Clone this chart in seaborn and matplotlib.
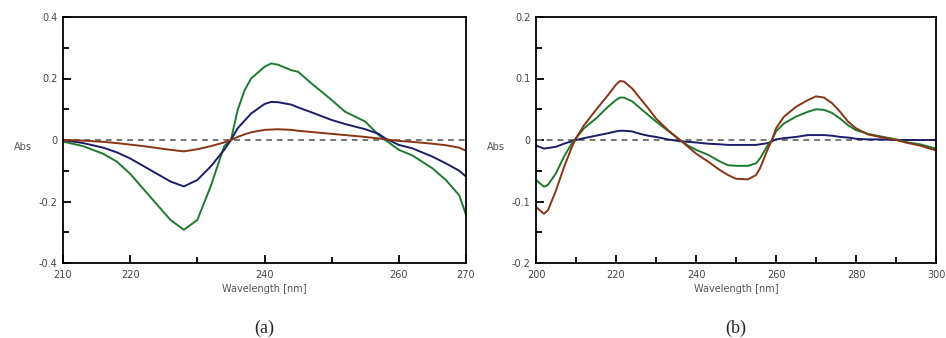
#plot.py
#two CD-style spectra panels, (a) and (b)

import matplotlib
matplotlib.use('Agg')
import matplotlib.pyplot as plt
import pandas as pd
import seaborn as sea

#panel (a) data, wavelength 210-270 nm
wl_a = [210, 213, 216, 218, 220, 222, 224, 226, 228, 230, 232, 234, 235, 236, 237, 238, 240, 241, 242,
        244, 245, 247, 250, 252, 255, 257, 258, 260, 262, 265, 267, 269, 270]
green_a = [-0.005, -0.02, -0.045, -0.07, -0.11, -0.16, -0.21, -0.26, -0.292, -0.26, -0.15, -0.02, 0.0, 0.097,
           0.16, 0.2, 0.238, 0.249, 0.245, 0.227, 0.222, 0.184, 0.13, 0.092, 0.06, 0.016, 0.0, -0.032,
           -0.05, -0.092, -0.13, -0.18, -0.243]
blue_a = [0.0, -0.01, -0.025, -0.04, -0.06, -0.085, -0.11, -0.135, -0.151, -0.13, -0.086, -0.032, 0.0, 0.038,
          0.062, 0.086, 0.117, 0.124, 0.123, 0.115, 0.106, 0.09, 0.065, 0.052, 0.035, 0.02, 0.005, -0.016,
          -0.027, -0.054, -0.076, -0.1, -0.119]
brown_a = [0.0, -0.002, -0.006, -0.01, -0.015, -0.02, -0.026, -0.032, -0.037, -0.03, -0.02, -0.008, 0.0, 0.01,
           0.018, 0.025, 0.033, 0.034, 0.035, 0.033, 0.03, 0.026, 0.02, 0.016, 0.01, 0.005, 0.002, -0.003,
           -0.006, -0.012, -0.017, -0.025, -0.035]

#panel (b) data, wavelength 200-300 nm
wl_b = [200, 202, 203, 205, 207, 209, 210, 212, 215, 218, 220, 221, 222, 224, 226, 228, 230, 233, 236, 238,
        240, 243, 246, 248, 250, 253, 255, 256, 257, 258, 259, 260, 262, 265, 268, 270, 272, 274, 276,
        278, 280, 283, 286, 290, 293, 296, 300]
brown_b = [-0.109, -0.12, -0.114, -0.082, -0.044, -0.011, 0.003, 0.024, 0.049, 0.073, 0.09, 0.096, 0.095,
           0.084, 0.068, 0.052, 0.035, 0.016, 0.0, -0.011, -0.022, -0.035, -0.049, -0.057, -0.063, -0.064,
           -0.057, -0.046, -0.03, -0.014, 0.0, 0.019, 0.038, 0.054, 0.065, 0.071, 0.069, 0.06, 0.046,
           0.03, 0.019, 0.009, 0.005, 0.0, -0.005, -0.009, -0.017]
green_b = [-0.065, -0.076, -0.073, -0.054, -0.027, -0.005, 0.003, 0.019, 0.035, 0.054, 0.065, 0.069, 0.069,
           0.063, 0.052, 0.041, 0.03, 0.015, 0.0, -0.009, -0.016, -0.024, -0.035, -0.041, -0.042, -0.042,
           -0.038, -0.03, -0.019, -0.008, 0.0, 0.014, 0.027, 0.038, 0.046, 0.05, 0.049, 0.044, 0.035,
           0.024, 0.016, 0.01, 0.006, 0.001, -0.004, -0.007, -0.014]
blue_b = [-0.009, -0.014, -0.013, -0.011, -0.006, -0.002, 0.0, 0.003, 0.007, 0.011, 0.014, 0.015, 0.015,
          0.014, 0.01, 0.007, 0.005, 0.001, -0.002, -0.003, -0.004, -0.006, -0.007, -0.008, -0.008, -0.008,
          -0.008, -0.007, -0.006, -0.005, -0.002, 0.001, 0.003, 0.005, 0.008, 0.008, 0.008, 0.007, 0.005,
          0.004, 0.002, 0.001, 0.001, 0.0, 0.0, 0.0, 0.0]

#ticks: labelled (major) and unlabelled (minor)
xmajor_a = [210, 220, 240, 260, 270]
xminor_a = [230, 250]
ymajor_a = [-0.4, -0.2, 0, 0.2, 0.4]
yminor_a = [-0.3, -0.1, 0.1, 0.3]
ylabels_a = ['-0.4', '-0.2', '0', '0.2', '0.4']
xmajor_b = [200, 220, 240, 260, 280, 300]
xminor_b = [210, 230, 250, 270, 290]
ymajor_b = [-0.2, -0.1, 0, 0.1, 0.2]
yminor_b = [-0.15, -0.05, 0.05, 0.15]
ylabels_b = ['-0.2', '-0.1', '0', '0.1', '0.2']

colors = {'green': '#1e7a2e', 'blue': '#1c1c6b', 'brown': '#8a3416'}


def long_df(wl, series):
    parts = []
    for name, vals in series.items():
        parts.append(pd.DataFrame({'wl': wl, 'abs': vals, 'sample': name}))
    return pd.concat(parts, ignore_index=True)


sea.set_style('white')
plt.rcParams['font.family'] = ['DejaVu Sans']

fig = plt.figure(figsize=(9.46, 3.38), dpi=100)
ax_a = fig.add_axes([63 / 946, 1 - 263 / 338, 403 / 946, 246 / 338])
ax_b = fig.add_axes([536 / 946, 1 - 263 / 338, 400 / 946, 246 / 338])

panels = [
    (ax_a, long_df(wl_a, {'green': green_a, 'blue': blue_a, 'brown': brown_a}),
     (210, 270), (-0.4, 0.4), xmajor_a, xminor_a, ymajor_a, yminor_a, ylabels_a, '(a)'),
    (ax_b, long_df(wl_b, {'blue': blue_b, 'green': green_b, 'brown': brown_b}),
     (200, 300), (-0.2, 0.2), xmajor_b, xminor_b, ymajor_b, yminor_b, ylabels_b, '(b)'),
]

for ax, data, xlim, ylim, xmaj, xmin, ymaj, ymin, yl, tag in panels:
    ax.axhline(0, color='#777777', lw=1.4, ls=(0, (3, 2.5)), zorder=1)
    sea.lineplot(data=data, x='wl', y='abs', hue='sample', palette=colors, lw=1.4,
                 legend=False, ax=ax, zorder=2)
    ax.set_xlim(xlim)
    ax.set_ylim(ylim)
    ax.set_xticks(xmaj)
    ax.set_xticklabels([str(v) for v in xmaj])
    ax.set_xticks(xmin, minor=True)
    ax.set_yticks(ymaj)
    ax.set_yticklabels(yl)
    ax.set_yticks(ymin, minor=True)
    #seaborn white style turns the ticks off, so switch them back on
    ax.tick_params(which='both', bottom=True, left=True, top=False, right=False,
                   direction='in', width=1.3, colors='black', labelcolor='#444444',
                   labelsize=7)
    ax.tick_params(which='major', length=6)
    ax.tick_params(which='minor', length=4)
    ax.tick_params(axis='x', which='major', pad=5)
    ax.tick_params(axis='y', which='major', pad=4)
    for sp in ax.spines.values():
        sp.set_visible(True)
        sp.set_color('black')
        sp.set_linewidth(1.3)
    ax.set_xlabel('Wavelength [nm]', fontsize=7, color='#555555', labelpad=3)
    ax.set_ylabel('Abs', fontsize=7, color='#555555', rotation=0, ha='center', va='center')
    ax.yaxis.set_label_coords(-0.1, 0.47)
    #panel tag under the axes
    ax.text(0.5, -0.265, tag, transform=ax.transAxes, ha='center', va='center',
            fontsize=13, family='Liberation Serif')

plt.savefig('out.png', dpi=100)
